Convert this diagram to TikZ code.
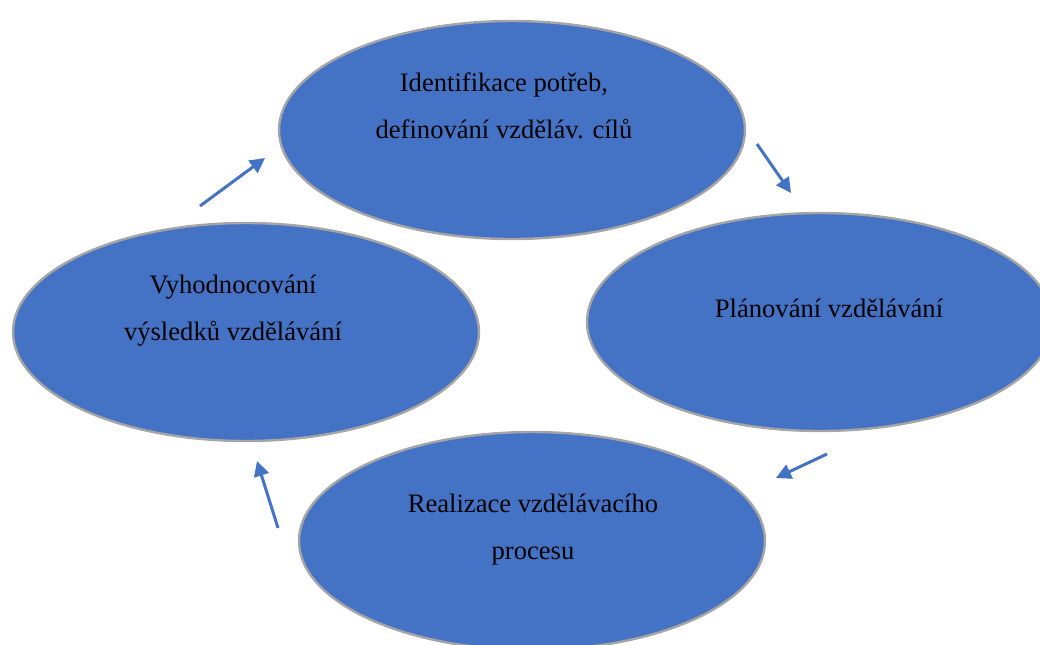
\documentclass[tikz,border=0pt]{standalone}
\usepackage{fontspec}
\setmainfont{Liberation Serif}
\usetikzlibrary{arrows.meta,shapes.geometric}
\definecolor{edcBlue}{HTML}{4472C4}
\definecolor{edcRim}{HTML}{A5A5A5}
\tikzset{
  edc stage/.style={ellipse, draw=edcRim, fill=edcBlue, line width=1.2pt, minimum width=233pt, minimum height=109pt, inner sep=0pt},
  edc label/.style={font=\fontsize{13.3}{23.5}\selectfont, text=black, align=center, anchor=base},
  edc arrow/.style={draw=edcBlue, line width=1.5pt, -{Triangle[length=7.5pt,width=7.5pt]}},
}
\begin{document}
\begin{tikzpicture}[x=0.5pt,y=-0.5pt]
  \useasboundingbox (0,0) rectangle (1040,644);
  \clip (0,0) rectangle (1040,644);
  % the four stages of the cycle
  \node[edc stage] (needs) at (512,130) {};
  \node[edc stage] (plan) at (820,322) {};
  \node[edc stage] (run) at (532,541) {};
  \node[edc stage] (eval) at (246,332) {};
  % texts sit a bit above the middle of each stage (base = last line)
  \node[edc label] (needs text) at (504,138) {Identifikace potřeb,\\definování vzděláv. cílů};
  \node[edc label] (plan text) at (829,317) {Plánování vzdělávání};
  \node[edc label] (run text) at (533,559) {Realizace vzdělávacího\\procesu};
  \node[edc label] (eval text) at (233,340) {Vyhodnocování\\výsledků vzdělávání};
  % free arrows between the stages, clockwise
  \coordinate (a1) at (200,206); \coordinate (b1) at (265,158);
  \coordinate (a2) at (757,144); \coordinate (b2) at (791,193);
  \coordinate (a3) at (827,454); \coordinate (b3) at (776,478);
  \coordinate (a4) at (278,528); \coordinate (b4) at (257,461);
  \foreach \s/\e in {a1/b1,a2/b2,a3/b3,a4/b4}
    \draw[edc arrow] (\s) -- (\e);
\end{tikzpicture}
\end{document}
